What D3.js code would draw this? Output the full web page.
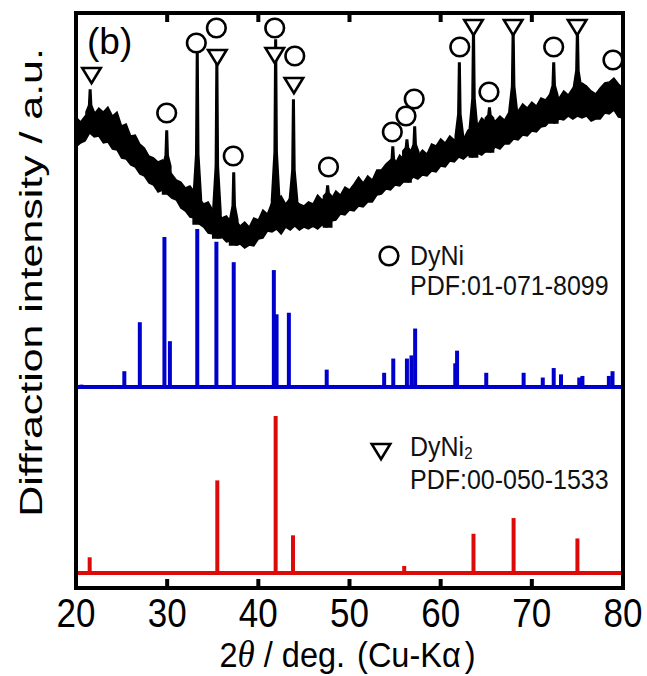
<!DOCTYPE html>
<html>
<head>
<meta charset="utf-8">
<script src="https://cdn.jsdelivr.net/npm/d3@7"></script>
<style>
  body { margin: 0; background: #fff; }
  text { font-family: "Liberation Sans", Arial, sans-serif; }
</style>
</head>
<body>
<script>
// measured pattern, band of the noisy trace read every 0.5 deg from 20 to 80 (a.u.)
const obsUpper = [471,466,472,476,474,480,476,481,472,476,462,464,452,453,444,440,432,430,426,428,
  422,414,408,406,400,402,396,390,384,386,378,376,370,372,366,368,362,366,361,370,
  368,378,374,386,388,392,384,390,388,384,382,386,384,393,388,392,389,397,393,401,
  398,404,411,405,412,408,418,418,424,428,424,433,428,437,436,432,438,434,444,442,
  449,445,452,448,452,449,458,460,462,470,466,470,467,472,468,476,478,477,484,480,
  486,482,490,488,494,493,490,497,493,500,500,505,502,497,494,500,505,506,510,504,500];
const obsLower = [441,445,447,455,451,452,445,446,439,438,430,429,423,421,414,412,405,403,396,398,
  394,390,388,380,377,371,370,364,361,355,354,350,351,346,347,343,344,340,343,342,
  349,350,357,356,359,354,361,358,362,358,361,359,362,359,363,361,367,368,374,373,
  378,377,382,381,386,386,393,394,399,398,403,402,407,406,411,409,413,412,417,416,
  422,421,427,426,431,429,433,431,435,433,437,436,441,439,444,444,449,448,453,452,
  457,456,461,462,467,465,469,468,472,469,472,470,472,467,469,469,475,474,478,471,470];

// sharp reflections on top of the trace: [2theta, peak top]
const obsPeaks = [[21.55,498],[29.95,457],[33.3,536],[35.45,528],[37.3,415],[41.9,548],[43.85,488],
  [47.6,402],[54.75,441],[56.3,448],[57.15,461],[62.05,525],[63.6,558],[65.35,480],[67.95,558],
  [72.4,525],[75.0,558]];

// reference patterns: [2theta, relative intensity %]
const dyniSticks = [[20.6,1.5],[25.3,10],[27.0,41],[29.7,95],[30.3,29],[33.3,100],[35.4,92],[37.3,79],
  [41.7,74],[42.0,46],[43.35,47],[47.5,11],[53.8,9],[54.8,18],[56.3,18],[56.8,20],[57.2,37],
  [61.6,15],[61.8,23],[65.0,9],[69.1,9],[71.2,6],[72.4,12],[73.2,8],[75.2,6],[75.55,7],
  [78.45,7],[78.85,10]];
const dyni2Sticks = [[21.5,10],[35.5,59],[41.9,100],[43.8,24],[56.0,4.5],[63.6,25],[68.0,35],[75.0,22]];

// phase markers over the trace: [2theta, level]
const dyniMarks = [[29.95,475],[33.2,545],[35.4,560],[37.25,432],[41.8,560],[44.0,532],[47.7,421],
  [54.7,456],[56.2,472],[57.1,489],[62.1,541],[65.3,496],[72.4,541],[78.9,528]];
const dyni2Marks = [[21.7,515],[35.5,533],[41.8,535],[43.9,505],[63.6,563],[67.95,563],[74.97,563]];

const xTicks = [20, 30, 40, 50, 60, 70, 80];

const width = 647, height = 676;
const margin = {top: 13, right: 24, bottom: 88, left: 76};
const dyniBase = 201, dyniPerCent = 1.58;
const dyni2Base = 15, dyni2PerCent = 1.57;

const x = d3.scaleLinear().domain([20, 80]).range([margin.left, width - margin.right]);
const y = d3.scaleLinear().domain([0, 575]).range([height - margin.bottom, margin.top]);

const svg = d3.select("body").append("svg")
  .attr("width", width)
  .attr("height", height);

const plot = svg.append("g");
plot.append("clipPath").attr("id", "clip")
  .append("rect")
  .attr("x", margin.left).attr("y", margin.top)
  .attr("width", width - margin.left - margin.right)
  .attr("height", height - margin.top - margin.bottom);
const inner = plot.append("g").attr("clip-path", "url(#clip)");

// observed trace
const grid = d3.range(obsUpper.length).map(i => ({t: 20 + i * 0.5, hi: obsUpper[i], lo: obsLower[i]}));
inner.append("path")
  .datum(grid)
  .attr("fill", "#000")
  .attr("stroke", "#000")
  .attr("stroke-width", 1.5)
  .attr("d", d3.area().x(d => x(d.t)).y0(d => y(d.lo)).y1(d => y(d.hi)));

const line = d3.line().x(d => x(d[0])).y(d => y(d[1]));
inner.append("g")
  .selectAll("path")
  .data(obsPeaks)
  .join("path")
  .attr("fill", "#000")
  .attr("stroke", "#000")
  .attr("stroke-width", 1.6)
  .attr("d", ([t, top]) => {
    const g = grid[Math.round((t - 20) * 2)];
    const mid = g.hi + 0.3 * (top - g.hi);
    return line([[t - 0.45, g.lo], [t - 0.45, g.hi], [t - 0.16, mid], [t - 0.08, top],
      [t + 0.08, top], [t + 0.16, mid], [t + 0.45, g.hi], [t + 0.45, g.lo]]) + "Z";
  });

// stick patterns
function sticks(data, base, perCent, color) {
  const g = inner.append("g")
    .attr("stroke", color)
    .attr("stroke-width", 4)
    .attr("fill", "none");
  g.append("path").attr("d", line([[20, base], [80, base]]));
  g.selectAll("path.stick")
    .data(data)
    .join("path")
    .attr("class", "stick")
    .attr("d", ([t, r]) => line([[t, base], [t, base + r * perCent]]));
}
sticks(dyniSticks, dyniBase, dyniPerCent, "#0000cc");
sticks(dyni2Sticks, dyni2Base, dyni2PerCent, "#dd0a0a");

// markers
const tri = d3.symbol().type(d3.symbolTriangle).size(150);
function circleMark(g, cx, cy) {
  g.append("circle").attr("cx", cx).attr("cy", cy).attr("r", 9.3)
    .attr("fill", "#fff").attr("stroke", "#000").attr("stroke-width", 2.6);
}
function triMark(g, cx, cy) {
  g.append("path").attr("d", tri)
    .attr("transform", `translate(${cx},${cy}) rotate(180) scale(1,0.95)`)
    .attr("fill", "#fff").attr("stroke", "#000").attr("stroke-width", 2.6);
}
const marks = plot.append("g");
dyniMarks.forEach(([t, v]) => circleMark(marks, x(t), y(v)));
dyni2Marks.forEach(([t, v]) => triMark(marks, x(t), y(v)));

// text drawn a little taller than wide, like the original figure
function stretched(g, tx, ty, sy, size) {
  return g.append("text")
    .attr("transform", `translate(${tx},${ty}) scale(1,${sy})`)
    .attr("font-size", size)
    .attr("fill", "#111");
}

// legend
const legend = plot.append("g");
circleMark(legend, 389, 256);
stretched(legend, 410, 265, 1.12, 25).text("DyNi");
stretched(legend, 410, 295, 1.12, 25).text("PDF:01-071-8099");
triMark(legend, 381, 449);
const t2 = stretched(legend, 410, 456, 1.12, 25);
t2.append("tspan").text("DyNi");
t2.append("tspan").attr("font-size", 15).attr("dy", 3).text("2");
stretched(legend, 410, 489, 1.12, 25).text("PDF:00-050-1533");

// panel label
plot.append("text")
  .attr("x", 87).attr("y", 54)
  .attr("font-family", "'Liberation Serif', 'Times New Roman', serif")
  .attr("font-size", 37)
  .text("(b)");

// frame and ticks
const x0 = margin.left, x1 = width - margin.right, y0 = margin.top, y1 = height - margin.bottom;
const frame = plot.append("g").attr("stroke", "#000").attr("stroke-width", 4).attr("fill", "none");
frame.append("rect").attr("x", x0).attr("y", y0).attr("width", x1 - x0).attr("height", y1 - y0);
frame.selectAll("path.tick")
  .data(xTicks.slice(1, -1))
  .join("path")
  .attr("class", "tick")
  .attr("d", d => `M${x(d)},${y1}v-9M${x(d)},${y0}v9`);

// tick labels
const tl = svg.append("g").attr("text-anchor", "middle");
xTicks.forEach(d => {
  stretched(tl, x(d), y1 + 39, 1.15, 35).attr("fill", "#000").text(d);
});

// axis titles
const xt = stretched(svg, (x0 + x1) / 2 - 2, 667, 1.1, 32.5)
  .attr("text-anchor", "middle").attr("fill", "#000");
xt.append("tspan").text("2");
xt.append("tspan").attr("font-style", "italic").attr("font-family", "'Liberation Serif', serif").attr("font-size", 35).text("θ");
xt.append("tspan").text(" / deg.");
xt.append("tspan").attr("dx", 12).text("(");
xt.append("tspan").text("Cu-Kα");
xt.append("tspan").attr("dx", 4).text(")");

svg.append("text")
  .attr("transform", `translate(42,${(y0 + y1) / 2 - 18}) rotate(-90) scale(1.34,1)`)
  .attr("text-anchor", "middle")
  .attr("font-size", 32)
  .attr("fill", "#000")
  .text("Diffraction intensity / a.u.");
</script>
</body>
</html>
